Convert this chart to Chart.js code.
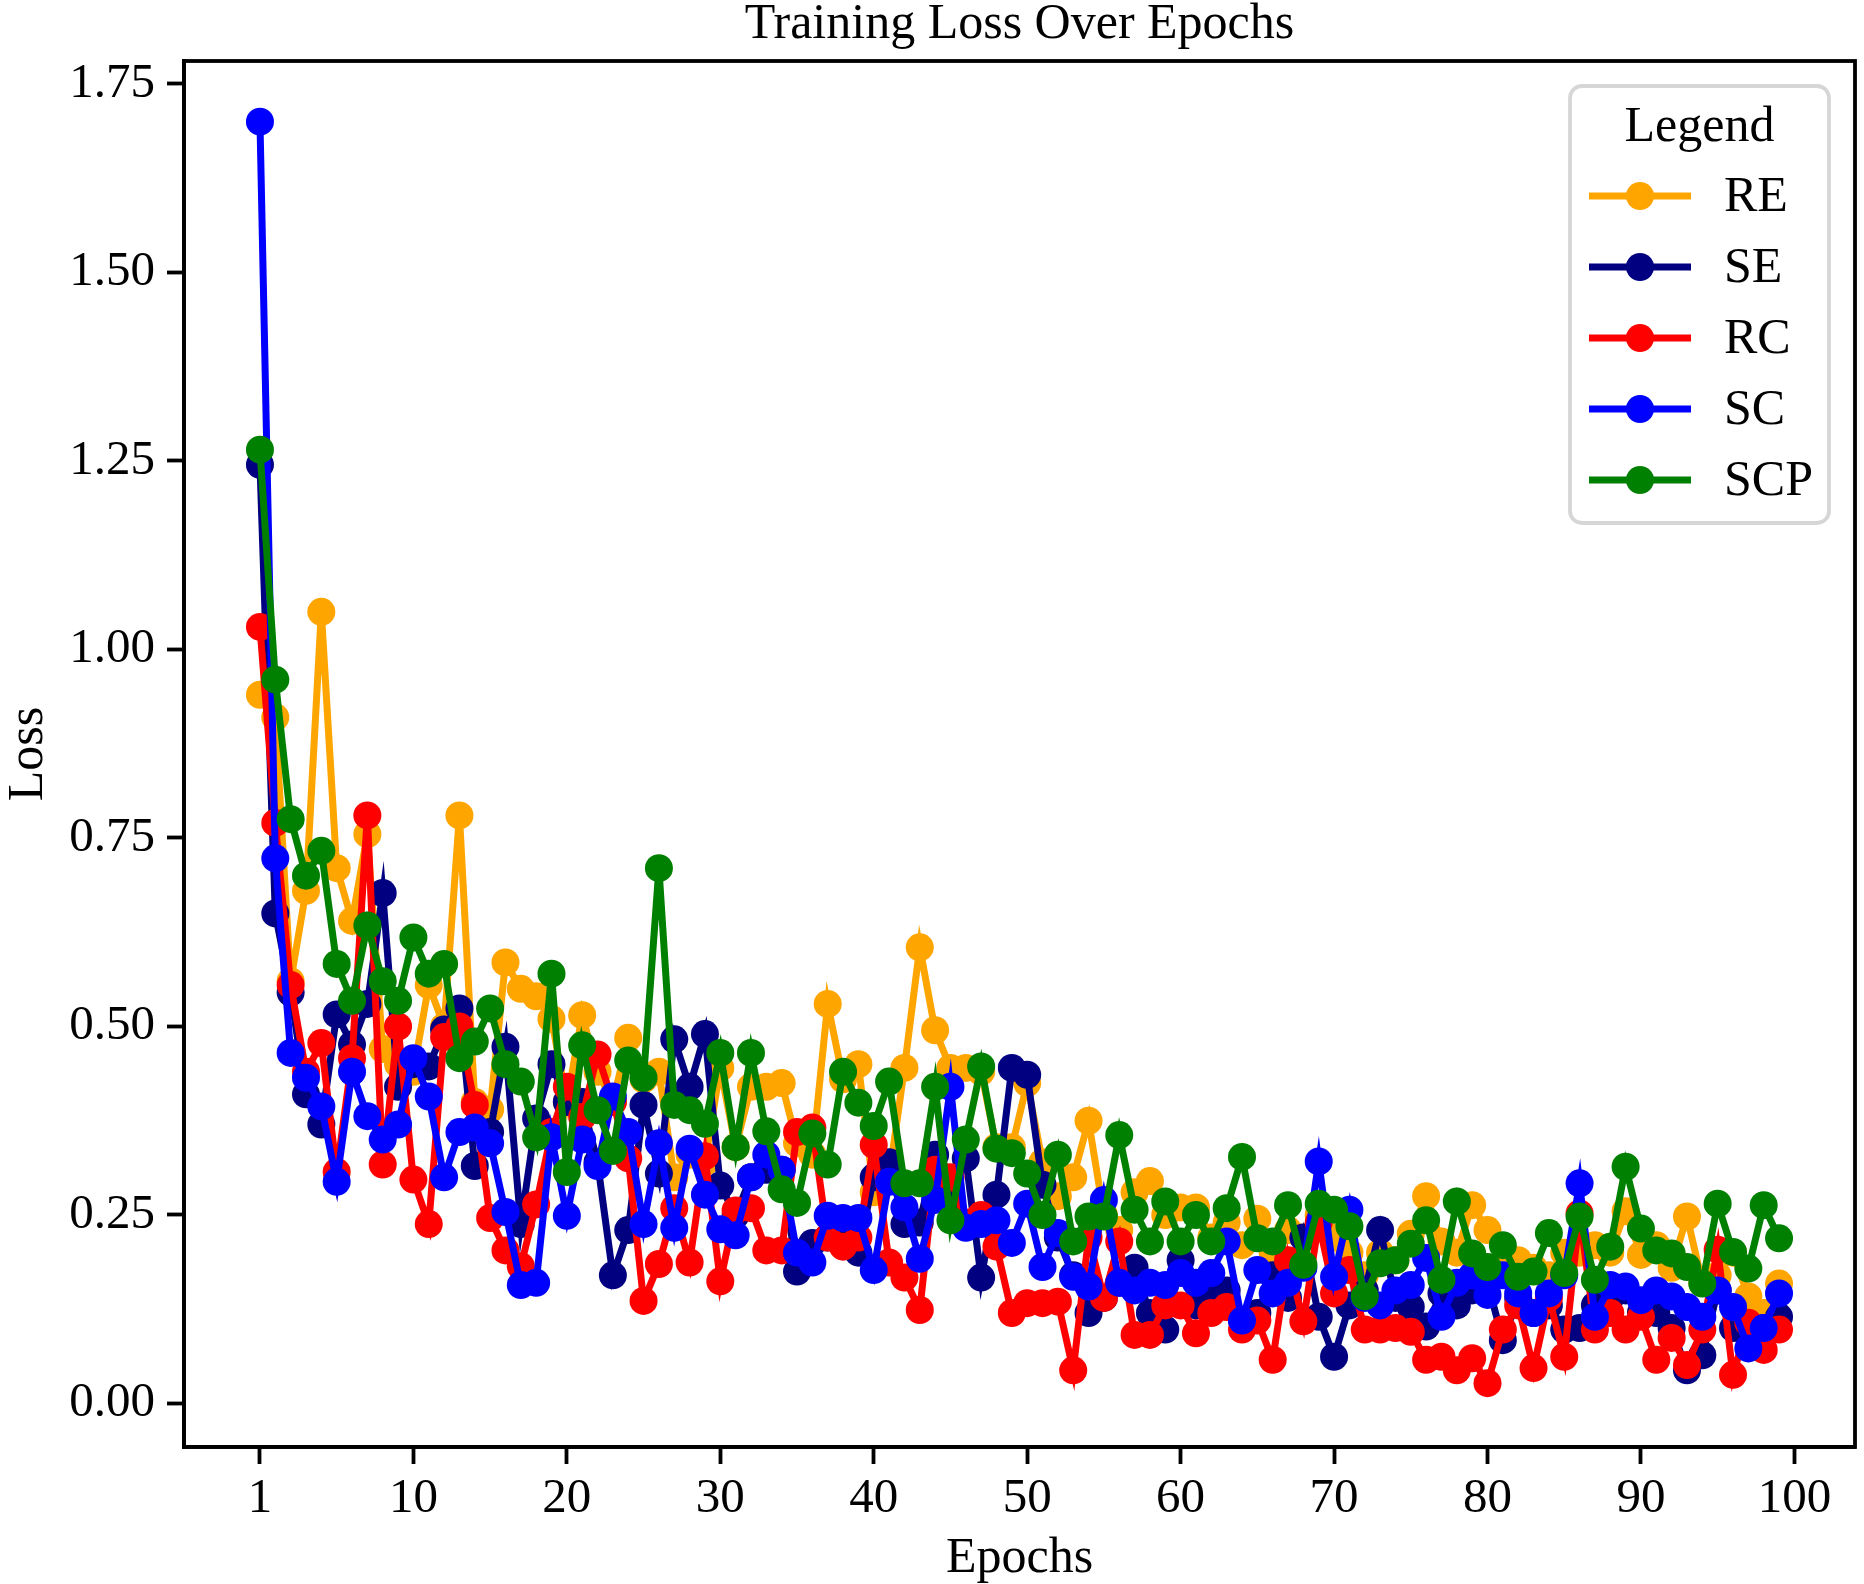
<!DOCTYPE html>
<html>
<head>
<meta charset="utf-8">
<script src="https://cdn.jsdelivr.net/npm/chart.js@4.4.0/dist/chart.umd.min.js"></script>
<style>
html,body{margin:0;padding:0;background:#fff;}
canvas{display:block;}
</style>
</head>
<body>
<canvas id="c" width="1864" height="1584"></canvas>
<script>
// ---- data ----
const epochs = Array.from({length: 100}, (_, i) => i + 1);
const xTickPositions = [0, 10, 20, 30, 40, 50, 60, 70, 80, 90, 100];
const xTickLabels = ['1', '10', '20', '30', '40', '50', '60', '70', '80', '90', '100'];
const yTicks = [0, 0.25, 0.5, 0.75, 1.0, 1.25, 1.5, 1.75];
const seriesNames = ['RE', 'SE', 'RC', 'SC', 'SCP'];

const RE = [0.94,0.91,0.56,0.68,1.05,0.71,0.64,0.755,0.47,0.45,
0.44,0.555,0.50,0.78,0.40,0.39,0.585,0.55,0.54,0.51,
0.40,0.515,0.44,0.40,0.485,0.43,0.44,0.30,0.33,0.32,
0.445,0.34,0.42,0.42,0.425,0.345,0.33,0.53,0.43,0.45,
0.28,0.30,0.445,0.605,0.495,0.445,0.445,0.44,0.34,0.34,
0.425,0.32,0.275,0.30,0.375,0.25,0.23,0.28,0.295,0.25,
0.26,0.26,0.22,0.24,0.21,0.245,0.20,0.23,0.22,0.25,
0.22,0.20,0.17,0.20,0.19,0.225,0.275,0.215,0.20,0.263,
0.23,0.18,0.19,0.18,0.17,0.20,0.20,0.21,0.20,0.255,
0.197,0.21,0.18,0.248,0.16,0.17,0.20,0.142,0.12,0.159];

const SE = [1.245,0.65,0.545,0.41,0.37,0.516,0.476,0.53,0.677,0.42,
0.45,0.447,0.496,0.524,0.315,0.36,0.473,0.238,0.378,0.45,
0.40,0.40,0.32,0.17,0.23,0.396,0.305,0.483,0.42,0.49,
0.289,0.25,0.30,0.31,0.31,0.175,0.213,0.22,0.23,0.20,
0.30,0.32,0.238,0.24,0.33,0.27,0.325,0.167,0.277,0.445,
0.436,0.29,0.22,0.17,0.12,0.14,0.16,0.18,0.12,0.098,
0.19,0.13,0.14,0.15,0.11,0.12,0.17,0.14,0.22,0.115,
0.062,0.13,0.15,0.23,0.14,0.128,0.102,0.146,0.13,0.15,
0.16,0.084,0.14,0.12,0.13,0.098,0.10,0.13,0.14,0.15,
0.12,0.12,0.10,0.044,0.064,0.15,0.10,0.09,0.10,0.115];

const RC = [1.03,0.77,0.555,0.44,0.478,0.307,0.458,0.78,0.317,0.50,
0.297,0.238,0.486,0.50,0.396,0.246,0.203,0.182,0.264,0.36,
0.42,0.38,0.463,0.40,0.325,0.136,0.185,0.259,0.187,0.328,
0.162,0.256,0.259,0.203,0.203,0.36,0.366,0.22,0.208,0.22,
0.343,0.187,0.167,0.124,0.31,0.30,0.24,0.25,0.208,0.12,
0.133,0.133,0.135,0.044,0.22,0.14,0.215,0.091,0.091,0.13,
0.13,0.093,0.12,0.128,0.098,0.11,0.058,0.19,0.109,0.24,
0.146,0.177,0.098,0.098,0.10,0.095,0.058,0.062,0.044,0.06,
0.027,0.098,0.13,0.047,0.14,0.062,0.252,0.098,0.12,0.098,
0.115,0.058,0.087,0.051,0.098,0.204,0.038,0.107,0.071,0.098];

const SC = [1.70,0.723,0.465,0.432,0.394,0.294,0.44,0.381,0.35,0.37,
0.458,0.407,0.30,0.36,0.366,0.345,0.254,0.157,0.16,0.353,
0.249,0.35,0.315,0.407,0.36,0.238,0.345,0.233,0.338,0.277,
0.231,0.223,0.30,0.33,0.31,0.20,0.187,0.249,0.246,0.246,
0.177,0.294,0.26,0.192,0.27,0.42,0.233,0.238,0.243,0.213,
0.265,0.181,0.226,0.168,0.155,0.27,0.16,0.15,0.16,0.157,
0.173,0.16,0.173,0.215,0.11,0.177,0.146,0.16,0.18,0.321,
0.168,0.257,0.14,0.13,0.15,0.157,0.193,0.115,0.16,0.17,
0.144,0.17,0.146,0.12,0.146,0.17,0.292,0.115,0.157,0.155,
0.137,0.15,0.142,0.128,0.115,0.15,0.128,0.073,0.10,0.146];

const SCP = [1.265,0.96,0.775,0.70,0.733,0.583,0.534,0.634,0.56,0.534,
0.618,0.57,0.583,0.458,0.48,0.524,0.45,0.427,0.353,0.57,
0.307,0.475,0.389,0.335,0.455,0.432,0.71,0.396,0.389,0.371,
0.465,0.34,0.465,0.361,0.284,0.266,0.358,0.317,0.44,0.399,
0.368,0.427,0.292,0.292,0.42,0.243,0.35,0.447,0.338,0.332,
0.305,0.25,0.33,0.215,0.248,0.248,0.356,0.257,0.215,0.268,
0.215,0.25,0.215,0.259,0.327,0.219,0.215,0.263,0.184,0.265,
0.257,0.235,0.142,0.186,0.19,0.212,0.243,0.164,0.268,0.199,
0.181,0.21,0.168,0.175,0.226,0.173,0.248,0.164,0.208,0.314,
0.232,0.203,0.199,0.181,0.159,0.265,0.201,0.179,0.263,0.219];

const seriesValues = [RE, SE, RC, SC, SCP];
const seriesColors = ['#FFA500', '#000080', '#FF0000', '#0000FF', '#008000'];

// ---- styling ----
const FONT = '"Liberation Serif", "Times New Roman", serif';
const FS_TICK = 49;
const FS = 50;

const datasets = seriesNames.map((name, k) => ({
  label: name,
  data: epochs.map((e, i) => ({x: e - 1, y: seriesValues[k][i]})),
  borderColor: seriesColors[k],
  backgroundColor: seriesColors[k],
  pointBackgroundColor: seriesColors[k],
  pointBorderWidth: 0,
  pointRadius: 14,
  pointHoverRadius: 14,
  borderWidth: 7,
  tension: 0,
  order: seriesNames.length - 1 - k
}));

const framePlugin = {
  id: 'frame',
  afterDraw(chart) {
    const ctx = chart.ctx;
    const a = chart.chartArea;
    ctx.save();
    ctx.strokeStyle = '#000';
    ctx.lineWidth = 3.8;
    ctx.strokeRect(a.left, a.top, a.right - a.left, a.bottom - a.top);

    // legend
    const bx = 1570, by = 86, bw = 259, bh = 437, r = 12;
    ctx.globalAlpha = 0.8;
    ctx.fillStyle = '#fff';
    ctx.beginPath();
    ctx.roundRect(bx, by, bw, bh, r);
    ctx.fill();
    ctx.globalAlpha = 1;
    ctx.strokeStyle = '#d6d6d6';
    ctx.lineWidth = 3.8;
    ctx.stroke();

    ctx.fillStyle = '#000';
    ctx.font = FS + 'px ' + FONT;
    ctx.textAlign = 'center';
    ctx.textBaseline = 'middle';
    ctx.fillText('Legend', bx + bw / 2, 128);

    const rows = [196, 267, 338, 409, 480];
    chart.data.datasets.forEach((ds, k) => {
      const y = rows[k];
      ctx.strokeStyle = ds.borderColor;
      ctx.lineWidth = 7;
      ctx.beginPath();
      ctx.moveTo(1589, y);
      ctx.lineTo(1691, y);
      ctx.stroke();
      ctx.fillStyle = ds.borderColor;
      ctx.beginPath();
      ctx.arc(1640, y, 14, 0, Math.PI * 2);
      ctx.fill();
      ctx.fillStyle = '#000';
      ctx.textAlign = 'left';
      ctx.fillText(ds.label, 1724, y + 2);
    });
    ctx.restore();
  }
};

new Chart(document.getElementById('c'), {
  type: 'line',
  data: {datasets},
  options: {
    responsive: false,
    devicePixelRatio: 1,
    animation: false,
    layout: {padding: {left: 0, right: 9, top: 0, bottom: 0}, autoPadding: false},
    plugins: {
      legend: {display: false},
      tooltip: {enabled: false},
      title: {
        display: true,
        text: 'Training Loss Over Epochs',
        color: '#000',
        fullSize: false,
        font: {family: FONT, size: FS, weight: 'normal', lineHeight: 0.9},
        padding: {top: 2.5, bottom: 13.5}
      }
    },
    scales: {
      x: {
        type: 'linear',
        min: -4.95,
        max: 103.95,
        afterBuildTicks(s) { s.ticks = xTickPositions.map(v => ({value: v})); },
        afterFit(s) { s.height = 137; },
        ticks: {
          color: '#000',
          font: {family: FONT, size: FS_TICK},
          padding: 6,
          maxRotation: 0,
          autoSkip: false,
          callback: (v) => xTickLabels[xTickPositions.indexOf(v)]
        },
        grid: {drawOnChartArea: false, drawTicks: true, tickLength: 17, tickWidth: 3.8, tickColor: '#000'},
        border: {display: true, color: '#000', width: 3.8},
        title: {display: true, text: 'Epochs', color: '#000', font: {family: FONT, size: FS, lineHeight: 1.0}, padding: 0}
      },
      y: {
        type: 'linear',
        min: -0.0577,
        max: 1.7805,
        afterBuildTicks(s) { s.ticks = yTicks.map(v => ({value: v})); },
        afterFit(s) { s.width = 184; },
        ticks: {
          color: '#000',
          font: {family: FONT, size: FS_TICK},
          padding: 12,
          autoSkip: false,
          callback: (v) => v.toFixed(2)
        },
        grid: {drawOnChartArea: false, drawTicks: true, tickLength: 17, tickWidth: 3.8, tickColor: '#000'},
        border: {display: true, color: '#000', width: 3.8},
        title: {display: true, text: 'Loss', color: '#000', font: {family: FONT, size: FS, lineHeight: 1.15}, padding: 0}
      }
    }
  },
  plugins: [framePlugin]
});
</script>
</body>
</html>
